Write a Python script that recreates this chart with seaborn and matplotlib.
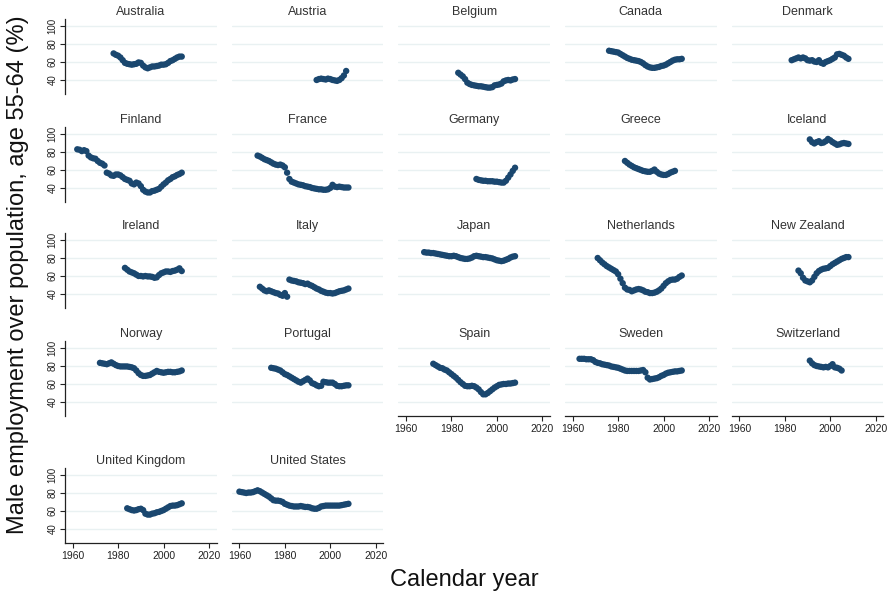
import numpy as np
import pandas as pd
import matplotlib
matplotlib.use("Agg")
import matplotlib.pyplot as plt
import seaborn as sns

countries = [
    "Australia", "Austria", "Belgium", "Canada", "Denmark",
    "Finland", "France", "Germany", "Greece", "Iceland",
    "Ireland", "Italy", "Japan", "Netherlands", "New Zealand",
    "Norway", "Portugal", "Spain", "Sweden", "Switzerland",
    "United Kingdom", "United States",
]

# first year of each series (annual observations, consecutive years)
start_year = {
    "Australia": 1978, "Austria": 1994, "Belgium": 1983, "Canada": 1976,
    "Denmark": 1983, "Finland": 1962, "France": 1968, "Germany": 1991,
    "Greece": 1983, "Iceland": 1991, "Ireland": 1983, "Italy": 1969,
    "Japan": 1968, "Netherlands": 1971, "New Zealand": 1986, "Norway": 1972,
    "Portugal": 1974, "Spain": 1972, "Sweden": 1963, "Switzerland": 1991,
    "United Kingdom": 1984, "United States": 1960,
}

australia = [69.5, 68, 67, 65, 62, 59, 58, 57.5, 57, 57.5, 58, 59.5, 59, 56, 54, 53,
             54, 55, 55, 55.5, 56, 57, 57, 57.5, 59, 61, 62, 63.5, 65, 66, 66]
austria = [40, 41, 41.5, 41, 40.5, 41.5, 41, 40, 39.5, 39, 40, 42, 45, 50]
belgium = [48, 46, 44, 41, 37, 35.5, 34.5, 34, 33.5, 33, 33, 32.5, 32, 31.5, 31.5, 32,
           34, 34.5, 35, 36, 38.5, 39.5, 40, 39.5, 40.5, 41]
canada = [72.5, 72, 71.5, 71, 70.5, 69, 67.5, 66, 64.5, 63.5, 62.5, 62, 61.5, 61, 60,
          58.5, 56.5, 55, 54, 53.5, 53.5, 54, 54.5, 55.5, 56, 57, 58.5, 60, 61.5, 62.5,
          63, 63, 63.5]
denmark = [62, 63, 64, 65, 64, 65, 64, 62, 61.5, 62, 60.5, 60, 62, 59, 58, 60, 61, 62,
           63.5, 65, 68.5, 69, 68, 67, 65, 63.5]
finland = [83, 82.5, 81, 82, 81, 76, 74, 73, 72.5, 70, 68, 67, 65, 57, 56, 54, 53.5, 55,
           55, 54, 52, 50, 49, 48, 45, 44, 46, 45, 42, 38, 36, 35, 35, 36.5, 37, 38, 39,
           41.5, 44, 46, 48.5, 50, 52, 53, 54.5, 55.5, 57]
france = [76, 75, 73.5, 72, 71, 70, 68.5, 67, 66, 65.5, 66, 65, 63, 57, 50, 47, 46, 45,
          44, 43.5, 43, 42, 41.5, 41, 40, 39.5, 39, 38.5, 38.5, 38, 38, 38.5, 40, 43.5,
          41.5, 41, 41.5, 41, 40.5, 40.5, 40.5]
germany = [50, 49, 48.5, 48, 48, 47.5, 47.5, 47.5, 47, 47, 46.5, 46, 46, 48, 51.5, 55,
           59, 62.5]
greece = [70, 68, 66, 64.5, 63, 62, 61, 60, 59, 58.5, 58, 58, 59, 60.5, 58, 56, 55,
          54.5, 54.5, 55.5, 57, 58, 59]
iceland = [94, 91, 89.5, 91, 92, 90, 90.5, 92, 94.5, 93, 91, 89.5, 88, 88.5, 89.5, 90,
           89.5, 89]
ireland = [69, 67, 65, 64, 63, 61.5, 60, 60, 59.5, 60, 59.5, 59.5, 59, 58, 58.5, 61, 63,
           64, 65, 65, 64.5, 65.5, 66, 67, 68.5, 65.5]
italy = [48, 46, 44, 43, 44, 43, 42, 41, 40.5, 39, 38, 41, 37, 56, 55, 54.5, 54, 53,
         52.5, 52, 51, 51.5, 50, 49, 47.5, 46, 45, 43.5, 42.5, 41.5, 41, 41, 40.5, 41,
         42, 43, 43.5, 44, 45, 46]
japan = [86.5, 86, 86, 85.5, 85.5, 85, 84.5, 84, 83.5, 83, 82.5, 82, 82, 82.5, 82, 81,
         80, 79.5, 79, 79, 79.5, 80.5, 82, 82.5, 82, 81.5, 81, 81, 80.5, 80, 79.5, 78.5,
         77.5, 77, 76.5, 77, 78, 79, 80.5, 81.5, 82]
netherlands = [80, 77.5, 75, 73, 71, 69.5, 68, 66.5, 65, 62, 57, 52, 47, 45, 44.5, 43,
               44, 45, 45.5, 45, 44, 42.5, 42, 41, 41, 41.5, 42.5, 44, 46, 49, 52, 54,
               55.5, 56, 56, 57, 59, 60.5]
new_zealand = [66, 63, 58, 55, 54, 53, 55, 59, 63, 65.5, 67, 68, 68.5, 69, 71, 73, 74.5,
               76, 77.5, 79, 80, 81, 81]
norway = [83.5, 83, 82.5, 82, 83, 84, 82.5, 81, 80, 79.5, 79.5, 79.5, 79.5, 79, 78.5,
          77.5, 75, 72, 70, 69, 69, 69.5, 70, 71.5, 73, 74.5, 73.5, 73, 72.5, 73, 73.5,
          73.5, 73, 73, 73.5, 74, 75]
portugal = [78, 77.5, 77, 76, 75, 73, 71, 70, 68.5, 67, 65.5, 64, 62.5, 61.5, 63, 64.5,
            66, 64, 61, 60, 58.5, 57.5, 58, 62.5, 62, 61.5, 61.5, 61.5, 60, 58, 57.5,
            57.5, 58, 58.5, 58.5]
spain = [82.5, 81, 79.5, 78, 77.5, 76, 75, 73, 71, 69, 67, 64.5, 62, 60, 58, 57.5, 57.5,
         58, 57.5, 56, 54, 51, 48.5, 48.5, 50, 52, 54, 56, 57.5, 59, 59.5, 60, 60, 60.5,
         60.5, 61, 61.5]
sweden = [88, 88, 88, 87.5, 87.5, 87.5, 86.5, 84.5, 83.5, 83, 82, 81.5, 81, 80.5, 79.5,
          79, 78.5, 78, 77, 76, 75, 74.5, 74.5, 74.5, 74.5, 74.5, 74.5, 75, 75.5, 73, 67,
          65, 65.5, 66, 66.5, 67.5, 69, 70, 71.5, 72.5, 73, 73.5, 74, 74, 74.5, 75]
switzerland = [86, 83, 81, 80, 79.5, 79, 78.5, 79, 78.5, 80, 82, 78.5, 78, 77, 75]
united_kingdom = [63, 62, 61, 60.5, 61, 62, 62.5, 61, 57, 56, 56, 57, 57.5, 58.5, 59, 60,
                  61, 62.5, 64, 65.5, 66, 66, 66.5, 67.5, 68.5]
united_states = [81.5, 81, 80.5, 80, 80.5, 80.5, 81, 82, 83, 82, 80.5, 79, 77.5, 76, 74,
                 72, 71.5, 71.5, 71, 70, 68, 67, 66, 65.5, 65, 65, 65, 65.5, 65, 64.5,
                 64.5, 64, 63, 62.5, 62.5, 63.5, 65, 65.5, 66, 66, 66, 66, 66, 66, 66,
                 66.5, 67, 67.5, 68]

series = {
    "Australia": australia, "Austria": austria, "Belgium": belgium, "Canada": canada,
    "Denmark": denmark, "Finland": finland, "France": france, "Germany": germany,
    "Greece": greece, "Iceland": iceland, "Ireland": ireland, "Italy": italy,
    "Japan": japan, "Netherlands": netherlands, "New Zealand": new_zealand,
    "Norway": norway, "Portugal": portugal, "Spain": spain, "Sweden": sweden,
    "Switzerland": switzerland, "United Kingdom": united_kingdom,
    "United States": united_states,
}

x_ticks = [1960, 1980, 2000, 2020]
y_ticks = [40, 60, 80, 100]

rows = []
for c in countries:
    vals = series[c]
    for i, v in enumerate(vals):
        rows.append({"country": c, "year": start_year[c] + i, "rate": v})
df = pd.DataFrame(rows)

sns.set_style("white")
plt.rcParams["font.family"] = ["Liberation Sans", "DejaVu Sans"]

navy = "#1a476f"
grid_col = "#e9f1f2"

g = sns.FacetGrid(df, col="country", col_order=countries, col_wrap=5,
                  sharex=True, sharey=True, despine=False, height=1.2, aspect=1.6)
g.map_dataframe(sns.scatterplot, x="year", y="rate", color=navy, s=21,
                linewidth=0, edgecolor="none")

fig = g.figure
fig.set_size_inches(8.92, 5.96)
fig.set_dpi(100)
W, H = 892.0, 596.0

col_left = [65.0, 231.7, 398.3, 565.0, 731.7]
row_top = [19.0, 127.0, 233.0, 341.0, 468.0]
ax_w, ax_h = 151.7, 75.0

n = len(countries)
for i, ax in enumerate(g.axes.flat):
    r, c = divmod(i, 5)
    ax.set_position([col_left[c] / W, 1 - (row_top[r] + ax_h) / H, ax_w / W, ax_h / H])
    ax.set_xlim(1956.6, 2023.4)
    ax.set_ylim(24.4, 107.8)
    ax.set_xticks(x_ticks)
    ax.set_yticks(y_ticks)
    ax.set_xlabel("")
    ax.set_ylabel("")
    ax.set_facecolor("white")
    for yv in y_ticks:
        ax.axhline(yv, color=grid_col, lw=1.0, zorder=0)
    ax.set_title(countries[i], fontsize=9, color="#333333", pad=3)

    first_col = c == 0
    bottom_of_col = (i + 5) >= n
    for s in ("top", "right"):
        ax.spines[s].set_visible(False)
    ax.spines["left"].set_visible(first_col)
    ax.spines["bottom"].set_visible(bottom_of_col)
    for s in ("left", "bottom"):
        ax.spines[s].set_color("#222222")
        ax.spines[s].set_linewidth(0.9)

    ax.tick_params(axis="y", left=first_col, labelleft=first_col, length=3.5,
                   width=0.8, pad=2, labelsize=7, colors="#222222")
    ax.tick_params(axis="x", bottom=bottom_of_col, labelbottom=bottom_of_col,
                   length=3.5, width=0.8, pad=2, labelsize=7.5, colors="#222222")
    if first_col:
        for lab in ax.get_yticklabels():
            lab.set_rotation(90)
            lab.set_va("center")

fig.text(18 / W, 1 - 275 / H, "Male employment over population, age 55-64 (%)",
         rotation=90, ha="center", va="center", fontsize=17, color="#111111")
fig.text(464 / W, 1 - 580 / H, "Calendar year",
         ha="center", va="center", fontsize=17, color="#111111")

fig.savefig("out.png", dpi=100, facecolor="white")
